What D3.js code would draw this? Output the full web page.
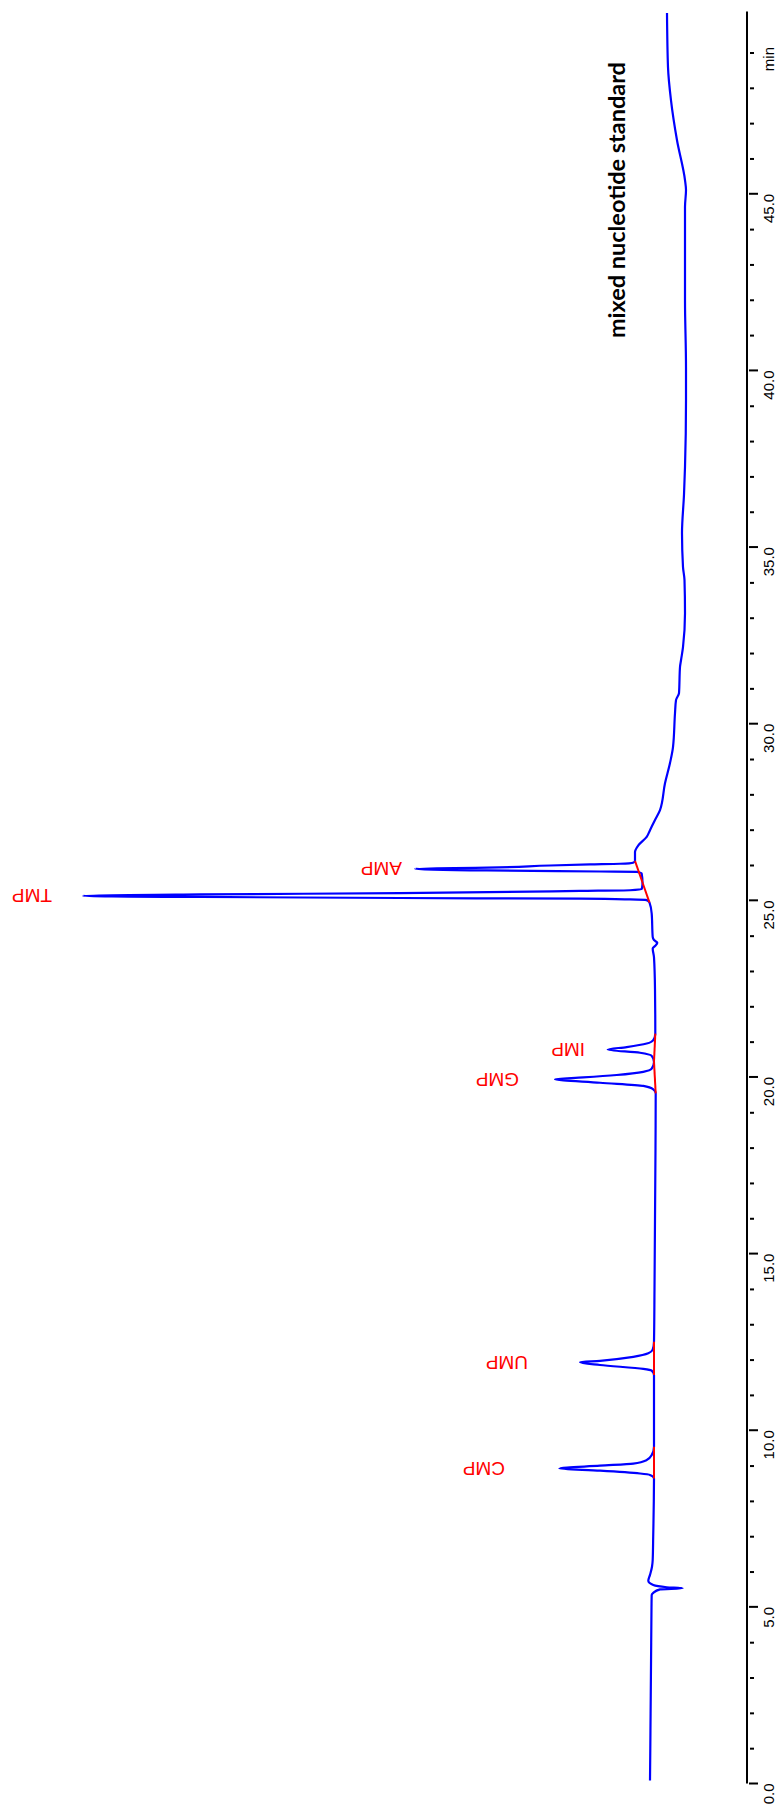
<!DOCTYPE html>
<html lang="en">
<head>
<meta charset="utf-8">
<title>mixed nucleotide standard</title>
<script src="https://d3js.org/d3.v7.min.js"></script>
<style>
  body { margin: 0; background: #fff; }
  .trace { fill: none; stroke: #0000ff; stroke-width: 2.2px; stroke-linejoin: round; }
  .base { stroke: #ff0000; stroke-width: 2px; }
  .axis path, .axis line { stroke: #000; stroke-width: 2px; }
</style>
</head>
<body>
<svg id="chart"></svg>
<script>
// chromatogram trace (time in min, signal in mAU)
var traceTime = [0.10, 1.0, 2.0, 3.0, 4.0, 5.0, 5.35, 5.41, 5.51, 5.54, 5.57, 5.63, 5.75, 5.92, 6.15, 6.34, 7.0, 8.0,
    8.65, 8.75, 8.79, 8.87, 8.93, 9.01, 9.07, 9.17, 9.31, 9.55, 10.5,
    11.58, 11.70, 11.75, 11.86, 11.94, 11.98, 12.09, 12.19, 12.30, 12.52, 14.0, 16.0, 18.0,
    19.55, 19.66, 19.76, 19.85, 19.95, 20.0, 20.07, 20.16, 20.25, 20.44,
    20.61, 20.70, 20.79, 20.86, 20.96, 21.06, 21.24, 22.5, 23.4,
    23.65, 23.72, 23.81, 23.89, 23.98, 24.64, 24.95,
    25.02, 25.04, 25.06, 25.08, 25.11, 25.14, 25.18, 25.22, 25.28, 25.30, 25.33, 25.40, 25.52,
    25.77, 25.82, 25.83, 25.86, 25.91, 25.94, 26.00, 26.03, 26.05, 26.08, 26.13,
    26.38, 26.57, 26.81, 27.0, 27.29, 27.57, 28.33, 28.9, 29.35, 30.31, 30.68, 30.88, 31.62, 31.81,
    32.18, 33.14, 34.08, 34.45, 35.41, 36.5, 37.28, 39.17, 40.1, 42.0, 44.64, 45.12, 45.4,
    46.53, 47.66, 48.6, 50.13];
var traceSignal = [10, 9.7, 9.4, 9.1, 8.8, 8.5, 8.3, 6.7, 0, -22.7, -6.7, 6.7, 11.7, 10, 8, 7.3, 6.8, 6.2,
    6, 10, 20, 60, 100.7, 60, 26.7, 13.3, 8.3, 6, 6,
    6, 8.3, 16.7, 60, 80, 60, 26.7, 11.7, 7.3, 6, 5.5, 5, 4.5,
    4.3, 6.7, 16.7, 60, 105, 76.7, 43.3, 16.7, 8.3, 6,
    8.3, 20, 52.3, 33.3, 13.3, 6.7, 4.7, 5, 6,
    7.3, 5, 2.7, 6, 7.3, 8.3, 10.5,
    13.3, 30, 80, 260, 460, 577, 460, 260, 80, 30, 18.3, 17.8, 17.5,
    18.3, 23.3, 60, 173, 245, 173, 110, 70, 40, 27, 25,
    25, 21.7, 13.3, 10, 5, 0, -5, -10, -13, -15, -16, -19, -20, -21,
    -23, -25, -24.5, -23, -22, -24, -25, -26, -26, -25, -25, -26, -25,
    -17, -11, -8, -7];

// integrated peaks
var peakNames = ["CMP", "UMP", "GMP", "IMP", "TMP", "AMP"];
var peakTimes = [8.93, 11.94, 19.95, 20.79, 25.14, 25.91];
var peakStart = [8.65, 11.58, 19.55, 20.44, 24.95, 25.52];
var peakEnd = [9.55, 12.52, 20.44, 21.24, 25.52, 26.13];
var baseStart = [6, 6, 4.3, 6, 10.5, 17.5];
var baseEnd = [6, 6, 6, 4.7, 17.5, 25];
var labelLevel = [155, 132, 141, 75, 608, 258];

var majorTicks = [0, 5, 10, 15, 20, 25, 30, 35, 40, 45];
var timeMax = 50.16;
var title = "mixed nucleotide standard";

var W = 776, H = 1809;
var plotLen = 1772, plotDepth = 746.5;

var svg = d3.select("#chart").attr("width", W).attr("height", H);

var x = d3.scaleLinear().domain([0, timeMax]).range([0, plotLen]);
var y = d3.scaleLinear().domain([-86.5, 660]).range([plotDepth, 0]);

// whole chart is drawn lying down, then turned a quarter
var g = svg.append("g").attr("transform", "translate(0,1784) rotate(-90)");

var axis = g.append("g")
    .attr("class", "axis")
    .attr("transform", "translate(0," + plotDepth + ")")
    .call(d3.axisBottom(x).tickValues(majorTicks).tickFormat(d3.format(".1f")).tickSize(11.5).tickSizeOuter(0));

axis.selectAll(".tick line").attr("y1", 2.5);
axis.selectAll(".tick text")
    .attr("y", 27)
    .attr("dy", 0)
    .attr("x", 0)
    .style("text-anchor", "end")
    .style("font-family", "'Liberation Sans', Arial, sans-serif")
    .style("font-size", "15px")
    .attr("fill", "#000");

var minor = d3.range(1, 50).filter(function (d) { return d % 5 !== 0; });
axis.selectAll(".minor")
    .data(minor)
    .enter().append("line")
    .attr("class", "minor")
    .attr("x1", function (d) { return x(d); })
    .attr("x2", function (d) { return x(d); })
    .attr("y1", 3.5)
    .attr("y2", 7.5);

axis.append("text")
    .attr("x", x(49.17))
    .attr("y", 27)
    .style("text-anchor", "end")
    .style("font-family", "'Liberation Sans', Arial, sans-serif")
    .style("font-size", "15px")
    .attr("fill", "#000")
    .text("min");

var line = d3.line()
    .x(function (d) { return x(d[0]); })
    .y(function (d) { return y(d[1]); })
    .curve(d3.curveMonotoneX);

g.append("path")
    .datum(d3.zip(traceTime, traceSignal))
    .attr("class", "trace")
    .attr("d", line);

// integration baselines
g.selectAll(".base")
    .data(peakNames)
    .enter().append("line")
    .attr("class", "base")
    .attr("x1", function (d, i) { return x(peakStart[i]); })
    .attr("y1", function (d, i) { return y(baseStart[i]); })
    .attr("x2", function (d, i) { return x(peakEnd[i]); })
    .attr("y2", function (d, i) { return y(baseEnd[i]); });

g.selectAll(".plabel")
    .data(peakNames)
    .enter().append("text")
    .attr("class", "plabel")
    .attr("transform", function (d, i) {
        return "translate(" + x(peakTimes[i]) + "," + y(labelLevel[i]) + ") rotate(-90)";
    })
    .attr("dy", "0.35em")
    .style("font-family", "'Liberation Sans', Arial, sans-serif")
    .style("font-size", "19px")
    .attr("fill", "#ff0000")
    .text(function (d) { return d; });

g.append("text")
    .attr("x", x(40.93))
    .attr("y", y(35))
    .attr("textLength", 276)
    .attr("lengthAdjust", "spacingAndGlyphs")
    .style("font-family", "Lato, 'Open Sans', sans-serif")
    .style("font-weight", "bold")
    .style("font-size", "22px")
    .attr("fill", "#000")
    .text(title);
</script>
</body>
</html>
